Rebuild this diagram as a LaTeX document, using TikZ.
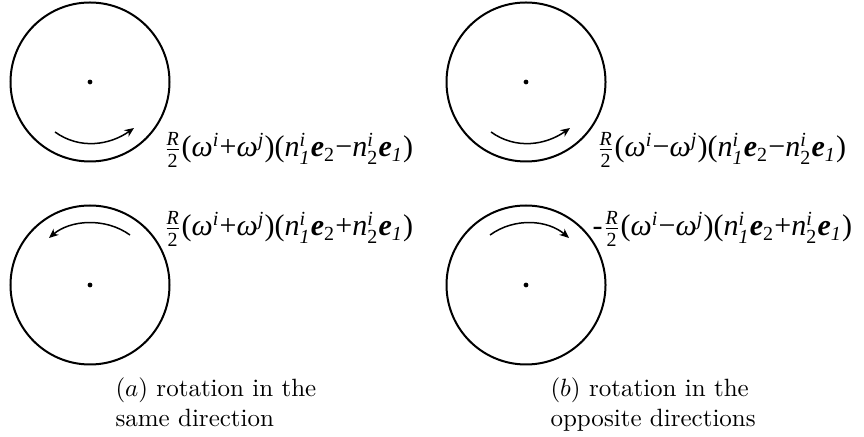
\documentclass[tikz,border=0pt]{standalone}
\usepackage{amsmath}
\usepackage{fontspec}
\newfontfamily\tms{Liberation Serif}
\usetikzlibrary{arrows.meta}
\newcommand\ti[1]{\text{\tms\itshape #1}}
\newcommand\tbi[1]{\text{\tms\bfseries\itshape #1}}
\newcommand\tup[1]{\text{\tms #1}}
\newcommand\halfR{\frac{\ti{R}}{\tup{2}}}
\newcommand\om{\ti{ω}}
\newcommand\nvec[1]{\ti{n}^{\ti{i}}_{#1}}
\begin{document}
\begin{tikzpicture}[x=0.4pt,y=-0.4pt,
  wheel/.style={draw,line width=0.8pt},
  hub/.style={fill,circle,inner sep=0pt,minimum size=1.9pt},
  turn/.style={line width=0.6pt,-{Stealth[length=3.8pt,width=3.2pt]}},
  formula/.style={anchor=base west,inner sep=0pt,font=\fontsize{12}{14}\selectfont},
  caption/.style={anchor=base west,inner sep=0pt,align=left,font=\fontsize{10}{12}\selectfont}]
\useasboundingbox (0,0) rectangle (864,437);
% circles
\node[hub] (c1) at (90,82) {};
\node[hub] (c2) at (90,285) {};
\node[hub] (c3) at (526,82) {};
\node[hub] (c4) at (526,285) {};
\draw[wheel] (c1) circle[radius=79.5];
\draw[wheel] (c2) circle[radius=79.5];
\draw[wheel] (c3) circle[radius=79.5];
\draw[wheel] (c4) circle[radius=79.5];
% arrows
\coordinate (a1s) at (55,132); \coordinate (a1e) at (134,128);
\coordinate (a2s) at (130,235); \coordinate (a2e) at (49,238);
\coordinate (b1s) at (491,132); \coordinate (b1e) at (570,128);
\coordinate (b2s) at (490,235); \coordinate (b2e) at (569,238);
\draw[turn] (a1s) .. controls (80,150) and (110,145) .. (a1e);
\draw[turn] (a2s) .. controls (105,217) and (70,220) .. (a2e);
\draw[turn] (b1s) .. controls (516,150) and (546,145) .. (b1e);
\draw[turn] (b2s) .. controls (515,217) and (548,220) .. (b2e);
% formulas
\node[formula] (fa1) at (163,157) {$\halfR\tup{(}\om^{\ti{i}}\tup{+}\om^{\ti{j}}\tup{)(}\nvec{\ti{1}}\tbi{e}_{\tup{2}}\tup{−}\nvec{\tup{2}}\tbi{e}_{\ti{1}}\tup{)}$};
\node[formula] (fa2) at (163,236) {$\halfR\tup{(}\om^{\ti{i}}\tup{+}\om^{\ti{j}}\tup{)(}\nvec{\ti{1}}\tbi{e}_{\tup{2}}\tup{+}\nvec{\tup{2}}\tbi{e}_{\ti{1}}\tup{)}$};
\node[formula] (fb1) at (596,157) {$\halfR\tup{(}\om^{\ti{i}}\tup{−}\om^{\ti{j}}\tup{)(}\nvec{\ti{1}}\tbi{e}_{\tup{2}}\tup{−}\nvec{\tup{2}}\tbi{e}_{\ti{1}}\tup{)}$};
\node[formula] (fb2) at (592,236) {$\tup{-}\halfR\tup{(}\om^{\ti{i}}\tup{−}\om^{\ti{j}}\tup{)(}\nvec{\ti{1}}\tbi{e}_{\tup{2}}\tup{+}\nvec{\tup{2}}\tbi{e}_{\ti{1}}\tup{)}$};
% captions
\node[caption] (capa) at (115,427) {$(a)$ rotation in the\\same direction};
\node[caption] (capb) at (550,427) {$(b)$ rotation in the\\opposite directions};
\end{tikzpicture}
\end{document}
